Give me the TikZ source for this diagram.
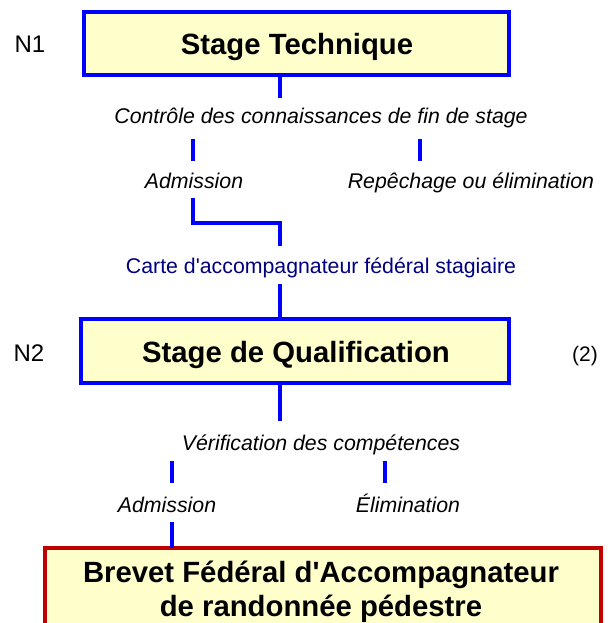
\documentclass[tikz,border=0pt]{standalone}
\usepackage{fontspec}
\setmainfont{Liberation Sans}[Ligatures=TeXOff]
\definecolor{boxblue}{RGB}{0,0,255}
\definecolor{boxfill}{RGB}{255,255,204}
\definecolor{boxred}{RGB}{192,0,0}
\definecolor{cartenavy}{RGB}{0,0,128}
\begin{document}
\begin{tikzpicture}[x=1pt,y=-1pt,
  lvl/.style={inner sep=0pt,anchor=base,font=\fontsize{24}{28}\selectfont},
  boxtitle/.style={inner sep=0pt,anchor=base,font=\fontsize{29.3}{34}\selectfont\bfseries},
  note/.style={inner sep=0pt,anchor=base,font=\fontsize{21.3}{25}\selectfont\itshape},
  carte/.style={inner sep=0pt,anchor=base,font=\fontsize{21.3}{25}\selectfont,text=cartenavy},
  small/.style={inner sep=0pt,anchor=base,font=\fontsize{21}{25}\selectfont},
  stagebox/.style={draw=boxblue,fill=boxfill,line width=4pt,inner sep=0pt,outer sep=0pt,rectangle},
  finalbox/.style={draw=boxred,fill=boxfill,line width=4pt,inner sep=0pt,outer sep=0pt,rectangle},
  link/.style={draw=boxblue,line width=4pt},
]
\useasboundingbox (0,0) rectangle (607,623);

% Level 1
\node[lvl] (n1) at (30,53) {N1};
\node[stagebox,minimum width=425pt,minimum height=63pt] (box1) at (296.5,43.5) {};
\node[boxtitle] (t1) at (297,55) {Stage Technique};
\coordinate (s1b) at (280,98);
\draw[link] (s1b |- box1.south) -- (s1b);
\node[note] (ctrl) at (321,123) {Contrôle des connaissances de fin de stage};
\coordinate (k1a) at (193,139); \coordinate (k1b) at (193,161);
\coordinate (k2a) at (420,139); \coordinate (k2b) at (420,161);
\draw[link] (k1a) -- (k1b);
\draw[link] (k2a) -- (k2b);
\node[note] (adm1) at (194,188) {Admission};
\node[note] (rep) at (471,188) {Repêchage ou élimination};
\coordinate (c1) at (193,198);
\coordinate (c2) at (280,246);
\draw[link] (c1) -- (193,223) -- (280,223) -- (c2);
\node[carte] (carte) at (321,273) {Carte d'accompagnateur fédéral stagiaire};
\coordinate (s2a) at (280,284);

% Level 2
\node[lvl] (n2) at (29,361) {N2};
\node[stagebox,minimum width=428pt,minimum height=64pt] (box2) at (295,351) {};
\draw[link] (s2a) -- (s2a |- box2.north);
\node[boxtitle] (t2) at (296,362) {Stage de Qualification};
\node[small] (two) at (585,361) {(2)};
\coordinate (s3b) at (280,421);
\draw[link] (s3b |- box2.south) -- (s3b);
\node[note] (verif) at (321,450) {Vérification des compétences};
\coordinate (k3a) at (172,461); \coordinate (k3b) at (172,483);
\coordinate (k4a) at (385,461); \coordinate (k4b) at (385,483);
\draw[link] (k3a) -- (k3b);
\draw[link] (k4a) -- (k4b);
\node[note] (adm2) at (167,512) {Admission};
\node[note] (elim) at (408,512) {Élimination};
\coordinate (s4a) at (172,522);

% Final
\node[finalbox,minimum width=556pt,minimum height=90pt] (box3) at (323,593) {};
\draw[link] (s4a) -- (s4a |- box3.north);
\node[boxtitle] (t3a) at (321,582) {Brevet Fédéral d'Accompagnateur};
\node[boxtitle] (t3b) at (321,616) {de randonnée pédestre};
\end{tikzpicture}
\end{document}
